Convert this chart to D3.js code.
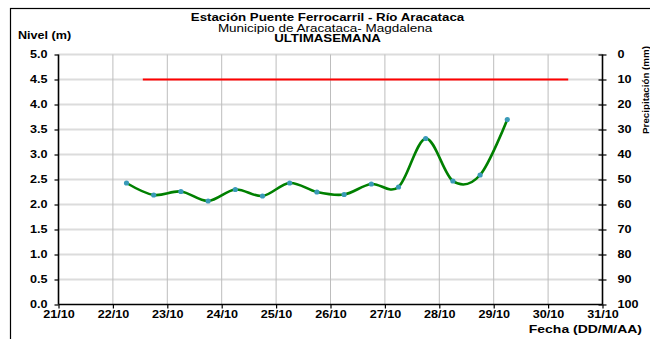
<!DOCTYPE html>
<html>
<head>
<meta charset="utf-8">
<script src="https://cdn.jsdelivr.net/npm/d3@7"></script>
<style>
  html, body { margin: 0; padding: 0; background: #fff; }
  svg { display: block; font-family: "Liberation Sans", Arial, sans-serif; }
</style>
</head>
<body>
<svg id="chart" width="650" height="339"></svg>
<script>
// Day axis (October), one tick per day
const dayTicks = [21, 22, 23, 24, 25, 26, 27, 28, 29, 30, 31];
const dayLabels = ["21/10", "22/10", "23/10", "24/10", "25/10", "26/10", "27/10", "28/10", "29/10", "30/10", "31/10"];

// Readings every 12 hours (06:00 and 18:00), as fractional day of month
const readingDays = [22.25, 22.75, 23.25, 23.75, 24.25, 24.75, 25.25, 25.75, 26.25, 26.75, 27.25, 27.75, 28.25, 28.75, 29.25];
const nivel = [2.43, 2.19, 2.26, 2.07, 2.30, 2.17, 2.43, 2.25, 2.20, 2.41, 2.35, 3.32, 2.47, 2.59, 3.70];

// Alert threshold level (m) and the span of days it covers
const alertLevel = 4.5;
const alertSpan = [22.55, 30.37];

const nivelTicks = [0, 0.5, 1, 1.5, 2, 2.5, 3, 3.5, 4, 4.5, 5];
const precipTicks = [0, 10, 20, 30, 40, 50, 60, 70, 80, 90, 100];

const svg = d3.select("#chart");
const plotL = 58.5, plotR = 602.5, plotT = 54.5, plotB = 304.5;
const stretch = 1.2; // wide, compressed lettering

const x = d3.scaleLinear().domain([21, 31]).range([plotL, plotR]);
const y = d3.scaleLinear().domain([0, 5]).range([plotB, plotT]);
const yP = d3.scaleLinear().domain([0, 100]).range([plotT, plotB]);

// Outer frame
svg.append("rect")
  .attr("x", 10.5).attr("y", 8.5).attr("width", 660).attr("height", 360)
  .attr("fill", "none").attr("stroke", "#000").attr("stroke-width", 1.2);

// Horizontal grid
svg.append("g").selectAll("line").data(nivelTicks.slice(1)).join("line")
  .attr("x1", plotL).attr("x2", plotR)
  .attr("y1", d => y(d)).attr("y2", d => y(d))
  .attr("stroke", "#dcdcdc").attr("stroke-width", 2);

// Vertical grid
svg.append("g").selectAll("line").data(dayTicks.slice(1, -1)).join("line")
  .attr("x1", d => x(d)).attr("x2", d => x(d))
  .attr("y1", plotT).attr("y2", plotB)
  .attr("stroke", "#bdbdbd").attr("stroke-width", 1);

// Alert threshold
svg.append("line")
  .attr("x1", x(alertSpan[0])).attr("x2", x(alertSpan[1]))
  .attr("y1", y(alertLevel)).attr("y2", y(alertLevel))
  .attr("stroke", "#ff0000").attr("stroke-width", 2);

// Axes
const tickFont = g => g.selectAll("text")
  .attr("font-family", "'Liberation Sans', Arial, sans-serif")
  .attr("font-size", 10.5).attr("font-weight", "bold").attr("fill", "#000")
  .each(function () {
    const t = d3.select(this);
    const tx = +(t.attr("x") || 0);
    t.attr("x", tx / stretch).attr("transform", `scale(${stretch},1)`);
  });

const axL = svg.append("g").attr("transform", `translate(${plotL},0)`)
  .call(d3.axisLeft(y).tickValues(nivelTicks).tickFormat(d3.format(".1f")).tickSize(4).tickPadding(7));
axL.call(tickFont);

const axB = svg.append("g").attr("transform", `translate(0,${plotB})`)
  .call(d3.axisBottom(x).tickValues(dayTicks).tickFormat((d, i) => dayLabels[i]).tickSize(4).tickPadding(2));
axB.call(tickFont);

const axR = svg.append("g").attr("transform", `translate(${plotR},0)`)
  .call(d3.axisRight(yP).tickValues(precipTicks).tickSize(4).tickPadding(11));
axR.call(tickFont);
axR.selectAll(".tick line").attr("x1", -4);

[axL, axB, axR].forEach(a => {
  a.select(".domain").attr("stroke", "#000").attr("stroke-width", 1.6);
  a.selectAll(".tick line").attr("stroke", "#000").attr("stroke-width", 1.2);
});
axL.select(".domain").attr("d", `M0,${plotT}V${plotB}`);
axR.select(".domain").attr("d", `M0,${plotT}V${plotB}`);
axB.select(".domain").attr("d", `M${plotL},0H${plotR}`);

// Water level series
const pts = readingDays.map((d, i) => [x(d), y(nivel[i])]);
svg.append("path")
  .attr("d", d3.line().curve(d3.curveCardinal.tension(0))(pts))
  .attr("fill", "none").attr("stroke", "#008000").attr("stroke-width", 2.6);

svg.append("g").selectAll("circle").data(pts).join("circle")
  .attr("cx", d => d[0]).attr("cy", d => d[1]).attr("r", 2.6)
  .attr("fill", "#3a9ab8");

// Titles and axis names
const txt = (s, xx, yy, size, weight, anchor, sx) => svg.append("text")
  .attr("transform", `translate(${xx},${yy}) scale(${sx},1)`)
  .attr("font-size", size).attr("font-weight", weight)
  .attr("text-anchor", anchor).attr("fill", "#000").text(s);

txt("Estación Puente Ferrocarril - Río Aracataca", 327.5, 21, 10, "bold", "middle", 1.33);
txt("Municipio de Aracataca- Magdalena", 325, 31.5, 10, "normal", "middle", 1.35);
txt("ULTIMASEMANA", 327.5, 42, 10, "bold", "middle", 1.33);
txt("Nivel (m)", 18, 39, 10.5, "bold", "start", 1.2);
txt("Fecha (DD/M/AA)", 642, 333, 10.5, "bold", "end", 1.33);

svg.append("text")
  .attr("transform", "translate(649,90) rotate(-90) scale(1.15,1)")
  .attr("font-size", 8.5).attr("font-weight", "bold").attr("text-anchor", "middle")
  .attr("fill", "#000").text("Precipitación (mm)");
</script>
</body>
</html>
